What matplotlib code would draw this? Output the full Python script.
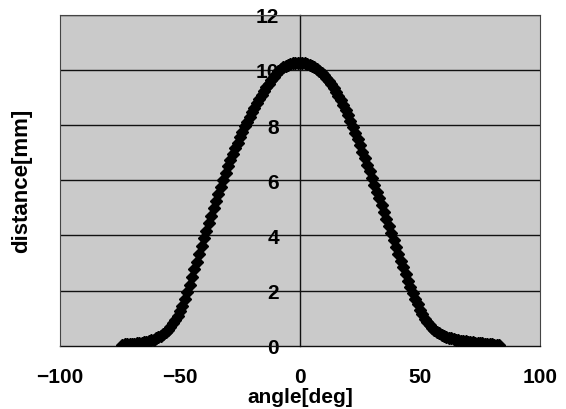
import matplotlib
matplotlib.use("Agg")
import matplotlib.pyplot as plt
import numpy as np

# measured distance vs. angle, one reading per degree
angle_start = -74
distance = [
    0.04, 0.05, 0.05, 0.06, 0.07, 0.08, 0.09, 0.10, 0.11, 0.13,   # -74 .. -65
    0.15, 0.17, 0.20, 0.23, 0.27, 0.31, 0.36, 0.43, 0.50, 0.59,   # -64 .. -55
    0.70, 0.82, 0.95, 1.09, 1.25, 1.45, 1.68, 1.95, 2.22, 2.50,   # -54 .. -45
    2.77, 3.04, 3.32, 3.61, 3.90, 4.17, 4.44, 4.71, 4.98, 5.25,   # -44 .. -35
    5.51, 5.77, 6.02, 6.27, 6.50, 6.72, 6.94, 7.15, 7.36, 7.56,   # -34 .. -25
    7.76, 7.95, 8.12, 8.30, 8.46, 8.62, 8.78, 8.93, 9.08, 9.22,   # -24 .. -15
    9.36, 9.49, 9.62, 9.74, 9.85, 9.95, 10.03, 10.09, 10.14, 10.18,  # -14 .. -5
    10.21, 10.23, 10.24, 10.25, 10.25, 10.25, 10.24, 10.22, 10.19, 10.15,  # -4 .. 5
    10.10, 10.04, 9.97, 9.89, 9.80, 9.70, 9.59, 9.47, 9.34, 9.20,  # 6 .. 15
    9.05, 8.89, 8.72, 8.54, 8.35, 8.15, 7.94, 7.72, 7.50, 7.27,   # 16 .. 25
    7.04, 6.80, 6.56, 6.32, 6.08, 5.84, 5.59, 5.34, 5.09, 4.84,   # 26 .. 35
    4.59, 4.34, 4.09, 3.84, 3.59, 3.34, 3.09, 2.84, 2.60, 2.36,   # 36 .. 45
    2.13, 1.91, 1.70, 1.50, 1.31, 1.14, 0.99, 0.86, 0.75, 0.65,   # 46 .. 55
    0.57, 0.50, 0.45, 0.40, 0.36, 0.33, 0.30, 0.27, 0.25, 0.23,   # 56 .. 65
    0.21, 0.19, 0.17, 0.16, 0.15, 0.14, 0.13, 0.12, 0.11, 0.10,   # 66 .. 75
    0.09, 0.08, 0.07, 0.06, 0.05, 0.04, 0.03, 0.02,               # 76 .. 83
]
angle = np.arange(angle_start, angle_start + len(distance))

x_ticks = [-100, -50, 0, 50, 100]
y_ticks = [0, 2, 4, 6, 8, 10, 12]

plt.rcParams["font.family"] = ["Liberation Sans", "DejaVu Sans"]
plt.rcParams["font.weight"] = "bold"

fig = plt.figure(figsize=(5.66, 4.10), dpi=100)
ax = fig.add_axes([0.106, 0.154, 0.848, 0.808])
ax.set_facecolor("#cacaca")

# horizontal grid lines
for yv in y_ticks[1:]:
    ax.axhline(yv, color="#111111", lw=1.0, zorder=1)

ax.plot(angle, distance, color="black", lw=3, marker="D", ms=6,
        zorder=3)

ax.set_xlim(-100, 100)
ax.set_ylim(0, 12)
ax.set_xticks(x_ticks)
ax.set_yticks(y_ticks)

# y axis drawn through x = 0, frame kept as a thin box
ax.spines["left"].set_position(("data", 0))
ax.spines["left"].set_color("#111111")
ax.spines["left"].set_linewidth(1.0)
ax.spines["bottom"].set_color("#111111")
ax.spines["bottom"].set_linewidth(1.0)
for side in ["top", "right"]:
    ax.spines[side].set_color("#444444")
    ax.spines[side].set_linewidth(0.8)
ax.axvline(-100, color="#444444", lw=0.8, clip_on=False, zorder=4)

ax.tick_params(axis="y", length=0, pad=15, labelsize=15)
ax.tick_params(axis="x", length=0, pad=15, labelsize=15)

ax.set_xlabel("angle[deg]", fontsize=15, fontweight="bold")
ax.xaxis.set_label_coords(0.5, -0.123)
ax.xaxis.label.set_va("top")
ax.set_ylabel("distance[mm]", fontsize=16, fontweight="bold")
ax.yaxis.set_label_coords(-0.058, 0.5)

fig.savefig("out.png", dpi=100)
